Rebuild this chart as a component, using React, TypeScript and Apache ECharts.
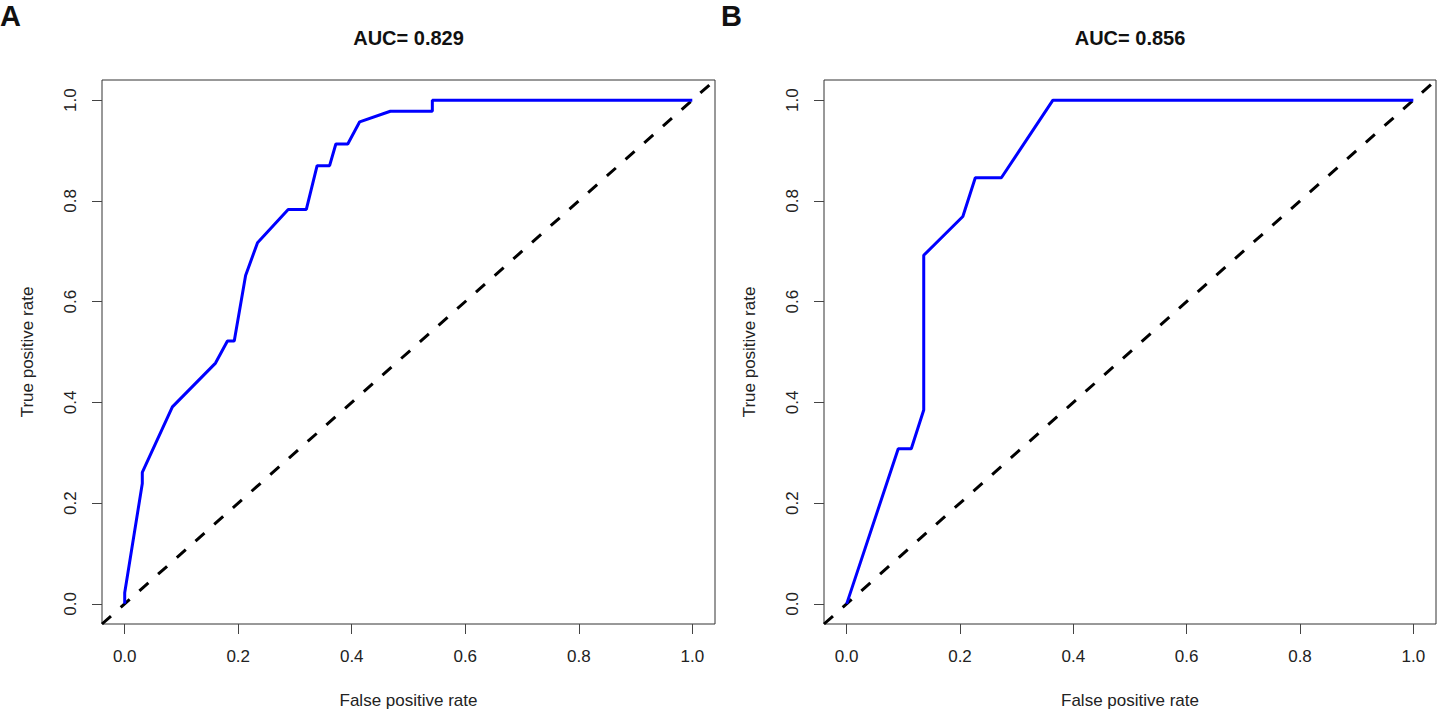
import React, { useEffect, useRef } from "react";
import * as echarts from "echarts";

const fprA = [0, 0, 0.031, 0.031, 0.084, 0.160, 0.181, 0.193, 0.213, 0.234, 0.288, 0.320, 0.339, 0.361, 0.372, 0.393, 0.414, 0.468, 0.542, 0.542, 1.0];
const tprA = [0, 0.022, 0.239, 0.261, 0.391, 0.478, 0.522, 0.522, 0.652, 0.717, 0.783, 0.783, 0.870, 0.870, 0.913, 0.913, 0.957, 0.978, 0.978, 1.0, 1.0];

const fprB = [0, 0.091, 0.114, 0.136, 0.136, 0.205, 0.227, 0.273, 0.364, 1.0];
const tprB = [0, 0.308, 0.308, 0.385, 0.692, 0.769, 0.846, 0.846, 1.0, 1.0];

const titles = ["AUC= 0.829", "AUC= 0.856"];
const panelLetters = ["A", "B"];
const tickValues = [0, 0.2, 0.4, 0.6, 0.8, 1.0];
const diagonal = [-0.04, 1.04];

const FONT = "'Liberation Sans', Arial, Helvetica, sans-serif";

export default function App() {
  const ref = useRef<HTMLDivElement>(null);
  useEffect(() => {
    if (!ref.current) return;
    const chart = echarts.init(ref.current, null, { renderer: "svg" });
    const grids = [
      { left: 102, top: 80, width: 613, height: 550 },
      { left: 824, top: 80, width: 612, height: 550 },
    ];
    const mkX = (i: number) => ({
      type: "value",
      gridIndex: i,
      min: -0.04,
      max: 1.04,
      name: "False positive rate",
      nameLocation: "middle",
      nameGap: 68,
      nameTextStyle: { fontFamily: FONT, fontSize: 17, color: "#222" },
      axisLine: { show: false, onZero: false },
      axisTick: { show: true, customValues: tickValues, length: 10, inside: false, lineStyle: { color: "#444", width: 1 } },
      axisLabel: { show: true, customValues: tickValues, formatter: (v: number) => v.toFixed(1), fontFamily: FONT, fontSize: 17, color: "#222", margin: 24 },
      splitLine: { show: false },
    });
    const mkY = (i: number) => ({
      type: "value",
      gridIndex: i,
      min: -0.04,
      max: 1.04,
      name: "True positive rate",
      nameLocation: "middle",
      nameGap: 66,
      nameTextStyle: { fontFamily: FONT, fontSize: 17, color: "#222" },
      axisLine: { show: false, onZero: false },
      axisTick: { show: true, customValues: tickValues, length: 10, inside: false, lineStyle: { color: "#444", width: 1 } },
      axisLabel: { show: true, customValues: tickValues, rotate: 90, formatter: (v: number) => v.toFixed(1), fontFamily: FONT, fontSize: 17, color: "#222", margin: 23 },
      splitLine: { show: false },
    });
    const roc = (xs: number[], ys: number[]) => xs.map((x, k) => [x, ys[k]]);
    const diag = diagonal.map((v) => [v, v]);
    const series: any[] = [];
    [roc(fprA, tprA), roc(fprB, tprB)].forEach((d, i) => {
      series.push({
        type: "line",
        xAxisIndex: i,
        yAxisIndex: i,
        data: diag,
        showSymbol: false,
        lineStyle: { color: "#000", width: 3, type: [12, 13] },
        silent: true,
      });
      series.push({
        type: "line",
        xAxisIndex: i,
        yAxisIndex: i,
        data: d,
        showSymbol: false,
        lineStyle: { color: "#0000FF", width: 3 },
        silent: true,
      });
    });
    const graphics: any[] = [];
    grids.forEach((g, i) => {
      graphics.push({
        type: "text",
        x: g.left + g.width / 2,
        y: 38,
        style: { text: titles[i], font: `bold 20px ${FONT}`, fill: "#111", textAlign: "center", textVerticalAlign: "middle" },
      });
      graphics.push({
        type: "text",
        x: i === 0 ? 0 : 721,
        y: 16,
        style: { text: panelLetters[i], font: `bold 29px ${FONT}`, fill: "#111", textAlign: "left", textVerticalAlign: "middle" },
      });
    });
    chart.setOption({
      animation: false,
      backgroundColor: "#fff",
      grid: grids.map((g) => ({ ...g, show: true, borderColor: "#333", borderWidth: 1, backgroundColor: "transparent", containLabel: false })),
      xAxis: [mkX(0), mkX(1)],
      yAxis: [mkY(0), mkY(1)],
      series,
      graphic: graphics,
    });
    return () => chart.dispose();
  }, []);
  return <div ref={ref} style={{ position: "absolute", left: 0, top: 0, width: 1438, height: 714 }} />;
}
